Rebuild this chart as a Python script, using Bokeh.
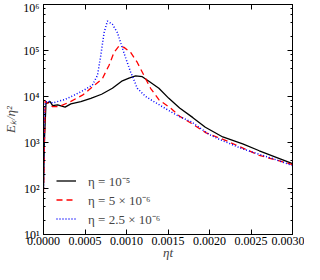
from bokeh.plotting import figure
from bokeh.models import (LinearAxis, LogAxis, Legend, LegendItem, Range1d,
                          CustomJSTickFormatter, FixedTicker, LogTicker)
from bokeh.embed import file_html
from bokeh.resources import INLINE

# ---- data ----
t_a = [0, 0.00001, 0.00003, 0.00008, 0.00011, 0.00017, 0.00026, 0.00033, 0.00045,
       0.00057, 0.00070, 0.00083, 0.00095, 0.00103, 0.00111, 0.00119, 0.00127, 0.00139,
       0.00151, 0.00164, 0.00180, 0.00195, 0.00216, 0.0024, 0.0026, 0.0030]
e_a = [100, 1000, 7080, 7760, 6310, 6610, 5890, 6920, 7760,
       9120, 11200, 15100, 21900, 25100, 28200, 26900, 21400, 15100,
       9120, 5620, 3470, 2140, 1320, 933, 661, 347]

t_b = [0, 0.000012, 0.00002, 0.000048, 0.000108, 0.00019, 0.000325, 0.00047, 0.00059,
       0.00071, 0.00079, 0.00085, 0.00091, 0.00097, 0.00105, 0.00113, 0.00121, 0.00129,
       0.00139, 0.00153, 0.00164, 0.00177, 0.00196, 0.0022, 0.0026, 0.003]
e_b = [80, 1070, 7940, 7240, 6030, 6030, 7760, 10700, 16200,
       24500, 47900, 91200, 126000, 117000, 91200, 55000, 28800, 15100,
       8510, 5620, 3720, 2690, 1620, 1100, 525, 331]

t_c = [0, 0.000008, 0.00002, 0.00006, 0.000108, 0.00025, 0.00037, 0.00049, 0.00059,
       0.00065, 0.00069, 0.00073, 0.00077, 0.00083, 0.00089, 0.00098, 0.00105, 0.00113,
       0.00123, 0.00143, 0.00163, 0.00178, 0.002, 0.00212, 0.0024, 0.00276, 0.003]
e_c = [100, 3160, 7410, 7940, 7240, 8510, 10700, 13800, 17800,
       28800, 77600, 245000, 437000, 372000, 245000, 77600, 33900, 15100,
       10000, 6030, 3720, 2820, 1480, 1170, 724, 447, 316]

labels = ["η = 10⁻⁵", "η = 5 × 10⁻⁶", "η = 2.5 × 10⁻⁶"]
x_ticks = [0, 0.0005, 0.001, 0.0015, 0.002, 0.0025, 0.003]
x_title = "ηt"
y_title = "Eₖ/η²"

FONT = "Liberation Serif"

p = figure(width=304, height=262, output_backend="svg", toolbar_location=None,
           y_axis_type="log", x_range=Range1d(0, 0.003), y_range=Range1d(10, 1e6),
           min_border_left=43, min_border_right=12, min_border_top=4, min_border_bottom=28)
p.grid.visible = False
p.outline_line_color = "black"
p.outline_line_width = 1

r1 = p.line(t_a, e_a, line_color="black", line_width=1.3)
r2 = p.line(t_b, e_b, line_color="red", line_width=1.3, line_dash="6 4")
r3 = p.line(t_c, e_c, line_color="blue", line_width=1.5, line_dash="1 2")

sup = CustomJSTickFormatter(code="""
const s = {'0':'⁰','1':'¹','2':'²','3':'³','4':'⁴','5':'⁵','6':'⁶','7':'⁷','8':'⁸','9':'⁹','-':'⁻'};
const e = Math.round(Math.log10(tick));
return '10' + String(e).split('').map(c => s[c]).join('');
""")
fx = CustomJSTickFormatter(code="return tick.toFixed(4);")

def style(ax, labels_on=True):
    ax.axis_line_color = "black"
    ax.major_tick_in = 5
    ax.major_tick_out = 0
    ax.minor_tick_in = 2
    ax.minor_tick_out = 0
    ax.major_tick_line_color = "black"
    ax.minor_tick_line_color = "black"
    ax.major_label_text_font = FONT
    ax.major_label_text_font_size = "12px"
    ax.major_label_text_color = "black" if labels_on else None
    ax.axis_label_text_font = FONT
    ax.axis_label_text_font_style = "italic"
    ax.axis_label_text_font_size = "13px"

xa = p.xaxis[0]
xa.ticker = FixedTicker(ticks=x_ticks)
xa.formatter = fx
xa.axis_label = x_title
style(xa)
xa.minor_tick_line_color = None
xa.major_label_standoff = 2
xa.axis_label_standoff = -3

ya = p.yaxis[0]
ya.ticker = LogTicker()
ya.formatter = sup
ya.axis_label = y_title
style(ya)
ya.major_label_standoff = 4
ya.axis_label_standoff = 2

top = LinearAxis(ticker=FixedTicker(ticks=x_ticks), formatter=fx)
style(top, labels_on=False)
top.minor_tick_line_color = None
top.major_label_text_font_size = "0px"
top.major_label_standoff = 0
p.add_layout(top, "above")

right = LogAxis(ticker=LogTicker(), formatter=sup)
style(right, labels_on=False)
right.major_label_text_font_size = "0px"
right.major_label_standoff = 0
p.add_layout(right, "right")

legend = Legend(items=[LegendItem(label=labels[0], renderers=[r1]),
                       LegendItem(label=labels[1], renderers=[r2]),
                       LegendItem(label=labels[2], renderers=[r3])],
                location=(13, 6), padding=0, margin=0, spacing=0,
                glyph_width=20, glyph_height=19, label_height=19,
                label_standoff=12, label_text_font=FONT, label_text_font_size="13px",
                border_line_alpha=0, background_fill_alpha=0)
p.add_layout(legend, "center")

open("out.html", "w").write(file_html(p, INLINE))
